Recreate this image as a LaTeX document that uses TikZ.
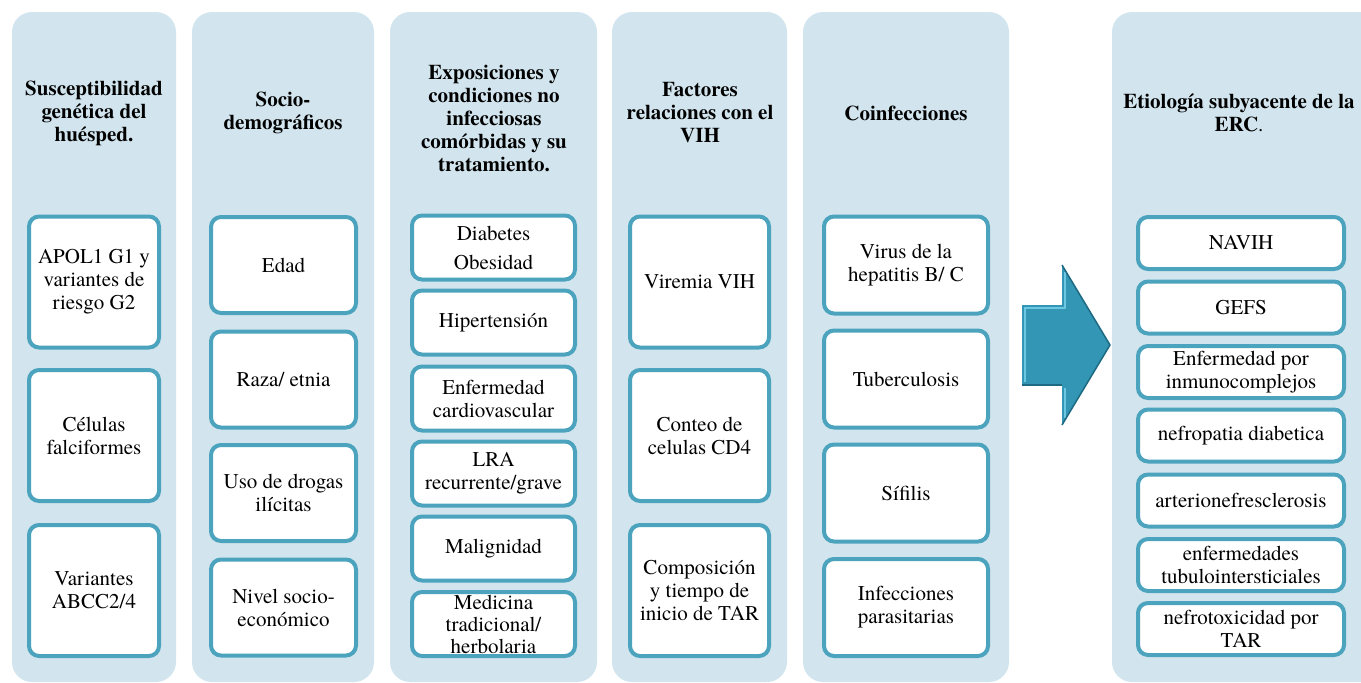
\documentclass[tikz,border=0pt]{standalone}
\usepackage{fontspec}
\setmainfont{texgyretermes}[Extension=.otf, UprightFont=*-regular, BoldFont=*-bold, ItalicFont=*-italic, BoldItalicFont=*-bolditalic]
\definecolor{colbg}{HTML}{D2E5EE}
\definecolor{boxline}{HTML}{4BA3BE}
\definecolor{arrowfill}{HTML}{3396B4}
\definecolor{arrowdark}{HTML}{1D6A82}
\definecolor{arrowlight}{HTML}{6CC8E2}
\tikzset{
  colpanel/.style={fill=colbg, rounded corners=20pt, inner sep=0pt, outer sep=0pt, anchor=north west},
  headtxt/.style={font=\fontsize{21}{23}\selectfont\bfseries, align=center, inner sep=0pt},
  fbox/.style={draw=boxline, line width=4pt, fill=white, rounded corners=10pt, align=center, inner sep=0pt, font=\fontsize{21}{23}\selectfont},
}
\begin{document}
\begin{tikzpicture}[x=1pt,y=-1pt]
\useasboundingbox (0,0) rectangle (1361,683);
% column panels
\node[colpanel, minimum width=164, minimum height=670] (p1) at (12,12) {};
\node[colpanel, minimum width=182, minimum height=670] (p2) at (192,12) {};
\node[colpanel, minimum width=207, minimum height=670] (p3) at (390,12) {};
\node[colpanel, minimum width=175, minimum height=670] (p4) at (612,12) {};
\node[colpanel, minimum width=206, minimum height=670] (p5) at (803,12) {};
\node[colpanel, minimum width=270, minimum height=670] (p6) at (1112,12) {};
% headers
\node[headtxt] (h1) at (94,113) {Susceptibilidad\\genética del\\huésped.};
\node[headtxt] (h2) at (283,113) {Socio-\\demográficos};
\node[headtxt] (h3) at (494,118) {Exposiciones y\\condiciones no\\infecciosas\\comórbidas y su\\tratamiento.};
\node[headtxt] (h4) at (700,113) {Factores\\relaciones con el\\VIH};
\node[headtxt] (h5) at (906,113) {Coinfecciones};
\node[headtxt] (h6) at (1239,113) {Etiología subyacente de la\\ERC{\mdseries .}};
% column 1
\tikzset{c1/.style={fbox, minimum width=130, minimum height=131}}
\node[c1] (a1) at (94,282) {APOL1 G1 y\\variantes de\\riesgo G2};
\node[c1] (a2) at (94,435.5) {Células\\falciformes};
\node[c1] (a3) at (94,590.5) {Variantes\\ABCC2/4};
% column 2
\tikzset{c2/.style={fbox, minimum width=145, minimum height=96}}
\node[c2] (b1) at (283.5,265) {Edad};
\node[c2] (b2) at (283.5,379.5) {Raza/ etnia};
\node[c2] (b3) at (283.5,493) {Uso de drogas\\ilícitas};
\node[c2] (b4) at (283.5,607.5) {Nivel socio-\\económico};
% column 3
\tikzset{c3/.style={fbox, minimum width=163, minimum height=64}}
\node[c3] (e1) at (493.5,247.5) {Diabetes\\[6pt]Obesidad};
\node[c3] (e2) at (493.5,322.5) {Hipertensión};
\node[c3] (e3) at (493.5,398.5) {Enfermedad\\cardiovascular};
\node[c3] (e4) at (493.5,473.5) {LRA\\recurrente/grave};
\node[c3] (e5) at (493.5,548.5) {Malignidad};
\node[c3, font=\fontsize{21}{22}\selectfont] (e6) at (493.5,624) {Medicina\\tradicional/\\herbolaria};
% column 4
\tikzset{c4/.style={fbox, minimum width=139, minimum height=131}}
\node[c4] (f1) at (699.5,282) {Viremia VIH};
\node[c4] (f2) at (699.5,435.5) {Conteo de\\celulas CD4};
\node[c4] (f3) at (699.5,590.5) {Composición\\y tiempo de\\inicio de TAR};
% column 5
\tikzset{c5/.style={fbox, minimum width=164, minimum height=97}}
\node[c5] (g1) at (906,265) {Virus de la\\hepatitis B/ C};
\node[c5] (g2) at (906,379) {Tuberculosis};
\node[c5] (g3) at (906,493) {Sífilis};
\node[c5] (g4) at (906,607.5) {Infecciones\\parasitarias};
% arrow
\fill[arrowfill] (1022,305) -- (1062,305) -- (1062,265) -- (1110,345) -- (1062,425) -- (1062,385) -- (1022,385) -- cycle;
\draw[arrowlight, line width=1.5pt] (1025,382) -- (1025,308) -- (1065,308) -- (1065,272);
\draw[arrowlight, line width=1.5pt] (1065,418) -- (1065,388);
\draw[arrowdark, line width=1.5pt] (1062,265) -- (1110,345) -- (1062,425);
\draw[arrowdark, line width=1.2pt] (1022,385) -- (1062,385);
% column 6
\tikzset{c6/.style={fbox, minimum width=206, minimum height=52}}
\node[c6] (k1) at (1241,243) {NAVIH};
\node[c6] (k2) at (1241,307.5) {GEFS};
\node[c6] (k3) at (1241,372) {Enfermedad por\\inmunocomplejos};
\node[c6] (k4) at (1241,435.5) {nefropatia diabetica};
\node[c6] (k5) at (1241,500.5) {arterionefresclerosis};
\node[c6] (k6) at (1241,565) {enfermedades\\tubulointersticiales};
\node[c6] (k7) at (1241,629) {nefrotoxicidad por\\TAR};
\end{tikzpicture}
\end{document}
